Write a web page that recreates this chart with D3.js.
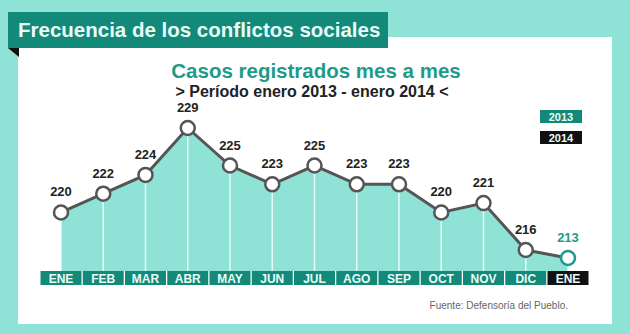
<!DOCTYPE html>
<html>
<head>
<meta charset="utf-8">
<script src="https://cdn.jsdelivr.net/npm/d3@7"></script>
<style>
  body { margin: 0; background: #8ee3d6; }
  svg { display: block; font-family: "Liberation Sans", Arial, sans-serif; }
</style>
</head>
<body>
<div id="chart"></div>
<script>
let width = 630
let height = 334

// data
let months = ["ENE", "FEB", "MAR", "ABR", "MAY", "JUN", "JUL", "AGO", "SEP", "OCT", "NOV", "DIC", "ENE"]
let years = [2013, 2013, 2013, 2013, 2013, 2013, 2013, 2013, 2013, 2013, 2013, 2013, 2014]
let casos = [220, 222, 224, 229, 225, 223, 225, 223, 223, 220, 221, 216, 213]
let legendYears = ["2013", "2014"]

let data = months.map(function(m, i) {
  return { key: i, month: m, year: years[i], value: casos[i] }
})

let teal = "#8ee3d6"
let dark = "#138a79"
let line = "#555555"

let svg = d3.select("#chart")
  .append("svg")
  .attr("width", width)
  .attr("height", height)
  .style("background", teal)

// white panel
svg.append("rect")
  .attr("x", 18).attr("y", 37)
  .attr("width", 594).attr("height", 287)
  .attr("fill", "#ffffff")

// banner + fold
svg.append("path")
  .attr("d", "M8,48 L19,48 L19,57 Z")
  .attr("fill", "#111")
svg.append("rect")
  .attr("x", 8).attr("y", 12)
  .attr("width", 380).attr("height", 36)
  .attr("fill", dark)
svg.append("text")
  .attr("x", 18).attr("y", 37)
  .attr("fill", "#e9fbf7")
  .attr("font-size", 20.5).attr("font-weight", "bold")
  .text("Frecuencia de los conflictos sociales")

// titles
svg.append("text")
  .attr("x", 316).attr("y", 78)
  .attr("text-anchor", "middle")
  .attr("fill", "#1d9b89")
  .attr("font-size", 20.5).attr("font-weight", "bold")
  .text("Casos registrados mes a mes")
svg.append("text")
  .attr("x", 312).attr("y", 97)
  .attr("text-anchor", "middle")
  .attr("fill", "#222")
  .attr("font-size", 16).attr("font-weight", "bold")
  .text("> Período enero 2013 - enero 2014 <")

// scales
let x = d3.scalePoint()
  .domain(data.map(d => d.key))
  .range([61, 568])

// the designer squeezed the last drop, so use a piecewise scale
let y = d3.scaleLinear()
  .domain([213, 216, 229])
  .range([258, 250, 128])

let base = 271

// area
let area = d3.area()
  .x(d => x(d.key))
  .y0(base)
  .y1(d => y(d.value))

svg.append("path")
  .datum(data)
  .attr("d", area)
  .attr("fill", teal)

// white drop lines
svg.append("g")
  .selectAll("line")
  .data(data)
  .enter()
  .append("line")
    .attr("x1", d => x(d.key)).attr("x2", d => x(d.key))
    .attr("y1", d => y(d.value)).attr("y2", base)
    .attr("stroke", "#ffffff")
    .attr("stroke-opacity", 0.8)
    .attr("stroke-width", 1.5)

// line
svg.append("path")
  .datum(data)
  .attr("d", d3.line().x(d => x(d.key)).y(d => y(d.value)))
  .attr("fill", "none")
  .attr("stroke", line)
  .attr("stroke-width", 3)

// points
svg.append("g")
  .selectAll("circle")
  .data(data)
  .enter()
  .append("circle")
    .attr("cx", d => x(d.key))
    .attr("cy", d => y(d.value))
    .attr("r", 7)
    .attr("fill", "#ffffff")
    .attr("stroke", d => d.year == 2014 ? "#1d9b89" : line)
    .attr("stroke-width", 2.5)

// value labels
svg.append("g")
  .selectAll("text")
  .data(data)
  .enter()
  .append("text")
    .attr("x", d => x(d.key))
    .attr("y", d => y(d.value) - 16)
    .attr("text-anchor", "middle")
    .attr("fill", d => d.year == 2014 ? "#1d9b89" : "#222")
    .attr("font-size", 13).attr("font-weight", "bold")
    .text(d => d.value)

// month boxes
let boxW = 41
let months_g = svg.append("g")
  .selectAll("g")
  .data(data)
  .enter()
  .append("g")
    .attr("transform", d => "translate(" + x(d.key) + "," + base + ")")

months_g.append("rect")
  .attr("x", -boxW / 2).attr("y", 0)
  .attr("width", boxW).attr("height", 14)
  .attr("fill", d => d.year == 2014 ? "#111" : dark)

months_g.append("text")
  .attr("y", 11.5)
  .attr("text-anchor", "middle")
  .attr("fill", "#e9fbf7")
  .attr("font-size", 12).attr("font-weight", "bold")
  .text(d => d.month)

// legend
let legend = svg.append("g")
  .selectAll("g")
  .data(legendYears)
  .enter()
  .append("g")
    .attr("transform", (d, i) => "translate(540," + (110 + i * 21) + ")")

legend.append("rect")
  .attr("width", 42).attr("height", 13)
  .attr("fill", (d, i) => i == 0 ? dark : "#111")

legend.append("text")
  .attr("x", 21).attr("y", 11)
  .attr("text-anchor", "middle")
  .attr("fill", "#e9fbf7")
  .attr("font-size", 11).attr("font-weight", "bold")
  .text(d => d)

// source
svg.append("text")
  .attr("x", 568).attr("y", 309)
  .attr("text-anchor", "end")
  .attr("fill", "#666")
  .attr("font-size", 10)
  .text("Fuente: Defensoría del Pueblo.")
</script>
</body>
</html>
